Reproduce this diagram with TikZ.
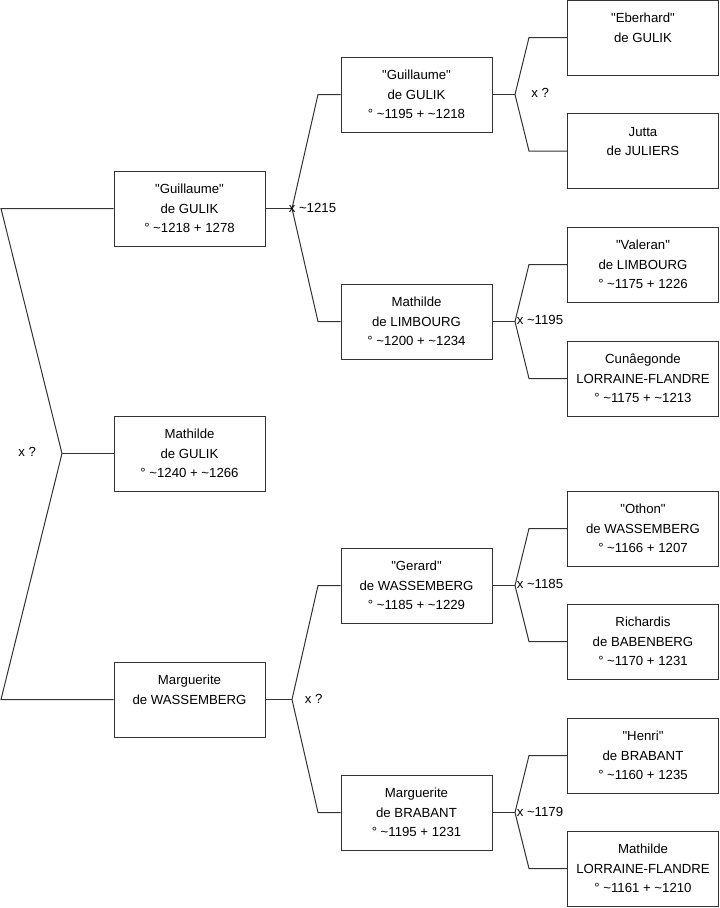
\documentclass[tikz,border=0pt]{standalone}
\usepackage{fontspec}
\setmainfont{Liberation Sans}[Ligatures=TeXOff]
\begin{document}
\begin{tikzpicture}[x=0.75pt,y=-0.75pt,
  person/.style={draw=black!80,line width=0.75pt,minimum width=113.25pt,minimum height=56.25pt,
    inner sep=0pt,align=center,font=\fontsize{9.9pt}{14.6pt}\selectfont},
  conn/.style={draw=black!80,line width=0.75pt},
  lab/.style={anchor=west,inner sep=0pt,font=\fontsize{9.9pt}{12pt}\selectfont}]
\useasboundingbox (0,0) rectangle (719,908);
% column 1
\node[person] (A) at (189.5,208.5) {"Guillaume"\\de GULIK\\° \textasciitilde1218 + 1278};
\node[person] (B) at (189.5,453.5) {Mathilde\\de GULIK\\° \textasciitilde1240 + \textasciitilde1266};
\node[person] (C) at (189.5,699.5) {Marguerite\\de WASSEMBERG\\\mbox{}};
% column 2
\node[person] (G2) at (416.5,94.5) {"Guillaume"\\de GULIK\\° \textasciitilde1195 + \textasciitilde1218};
\node[person] (M2) at (416.5,321.5) {Mathilde\\de LIMBOURG\\° \textasciitilde1200 + \textasciitilde1234};
\node[person] (R2) at (416.5,585.5) {"Gerard"\\de WASSEMBERG\\° \textasciitilde1185 + \textasciitilde1229};
\node[person] (B2) at (416.5,812.5) {Marguerite\\de BRABANT\\° \textasciitilde1195 + 1231};
% column 3
\node[person] (E3) at (643,37.5) {"Eberhard"\\de GULIK\\\mbox{}};
\node[person] (J3) at (643,151) {Jutta\\de JULIERS\\\mbox{}};
\node[person] (V3) at (643,264.5) {"Valeran"\\de LIMBOURG\\° \textasciitilde1175 + 1226};
\node[person] (K3) at (643,378.5) {Cunâegonde\\LORRAINE-FLANDRE\\° \textasciitilde1175 + \textasciitilde1213};
\node[person] (O3) at (643,528.5) {"Othon"\\de WASSEMBERG\\° \textasciitilde1166 + 1207};
\node[person] (H3b) at (643,641.5) {Richardis\\de BABENBERG\\° \textasciitilde1170 + 1231};
\node[person] (H3) at (643,755.5) {"Henri"\\de BRABANT\\° \textasciitilde1160 + 1235};
\node[person] (L3) at (643,868.5) {Mathilde\\LORRAINE-FLANDRE\\° \textasciitilde1161 + \textasciitilde1210};
% root fork
\coordinate (rt) at (1,208.5);
\coordinate (rv) at (62,453.5);
\coordinate (rb) at (1,699.5);
\draw[conn] (A.west) -- (rt) -- (rv) -- (rb) -- (C.west);
\draw[conn] (rv) -- (B.west);
\node[lab] (l0) at (18,452) {x ?};
% fork from A
\coordinate (av) at (292,208.5);
\coordinate (a1) at (318,94.5);
\coordinate (a2) at (318,321.5);
\draw[conn] (G2.west) -- (a1) -- (av) -- (a2) -- (M2.west);
\draw[conn] (A.east) -- (av);
\node[lab] (l1) at (288.5,207.5) {x \textasciitilde1215};
% fork from C
\coordinate (cv) at (292,699.5);
\coordinate (c1) at (318,585.5);
\coordinate (c2) at (318,812.5);
\draw[conn] (R2.west) -- (c1) -- (cv) -- (c2) -- (B2.west);
\draw[conn] (C.east) -- (cv);
\node[lab] (l2) at (304.5,699) {x ?};
% fork from G2
\coordinate (gv) at (515,94.5);
\coordinate (g1) at (529,37.5);
\coordinate (g2) at (529,151);
\draw[conn] (E3.west) -- (g1) -- (gv) -- (g2) -- (J3.west);
\draw[conn] (G2.east) -- (gv);
\node[lab] (l3) at (531,93) {x ?};
% fork from M2
\coordinate (mv) at (515,321.5);
\coordinate (m1) at (529,264.5);
\coordinate (m2) at (529,378.5);
\draw[conn] (V3.west) -- (m1) -- (mv) -- (m2) -- (K3.west);
\draw[conn] (M2.east) -- (mv);
\node[lab] (l4) at (516.5,320) {x \textasciitilde1195};
% fork from R2
\coordinate (ov) at (515,585.5);
\coordinate (o1) at (529,528.5);
\coordinate (o2) at (529,641.5);
\draw[conn] (O3.west) -- (o1) -- (ov) -- (o2) -- (H3b.west);
\draw[conn] (R2.east) -- (ov);
\node[lab] (l5) at (516.5,584) {x \textasciitilde1185};
% fork from B2
\coordinate (bv) at (515,812.5);
\coordinate (b1) at (529,755.5);
\coordinate (b2) at (529,868.5);
\draw[conn] (H3.west) -- (b1) -- (bv) -- (b2) -- (L3.west);
\draw[conn] (B2.east) -- (bv);
\node[lab] (l6) at (516.5,811.5) {x \textasciitilde1179};
\end{tikzpicture}
\end{document}
